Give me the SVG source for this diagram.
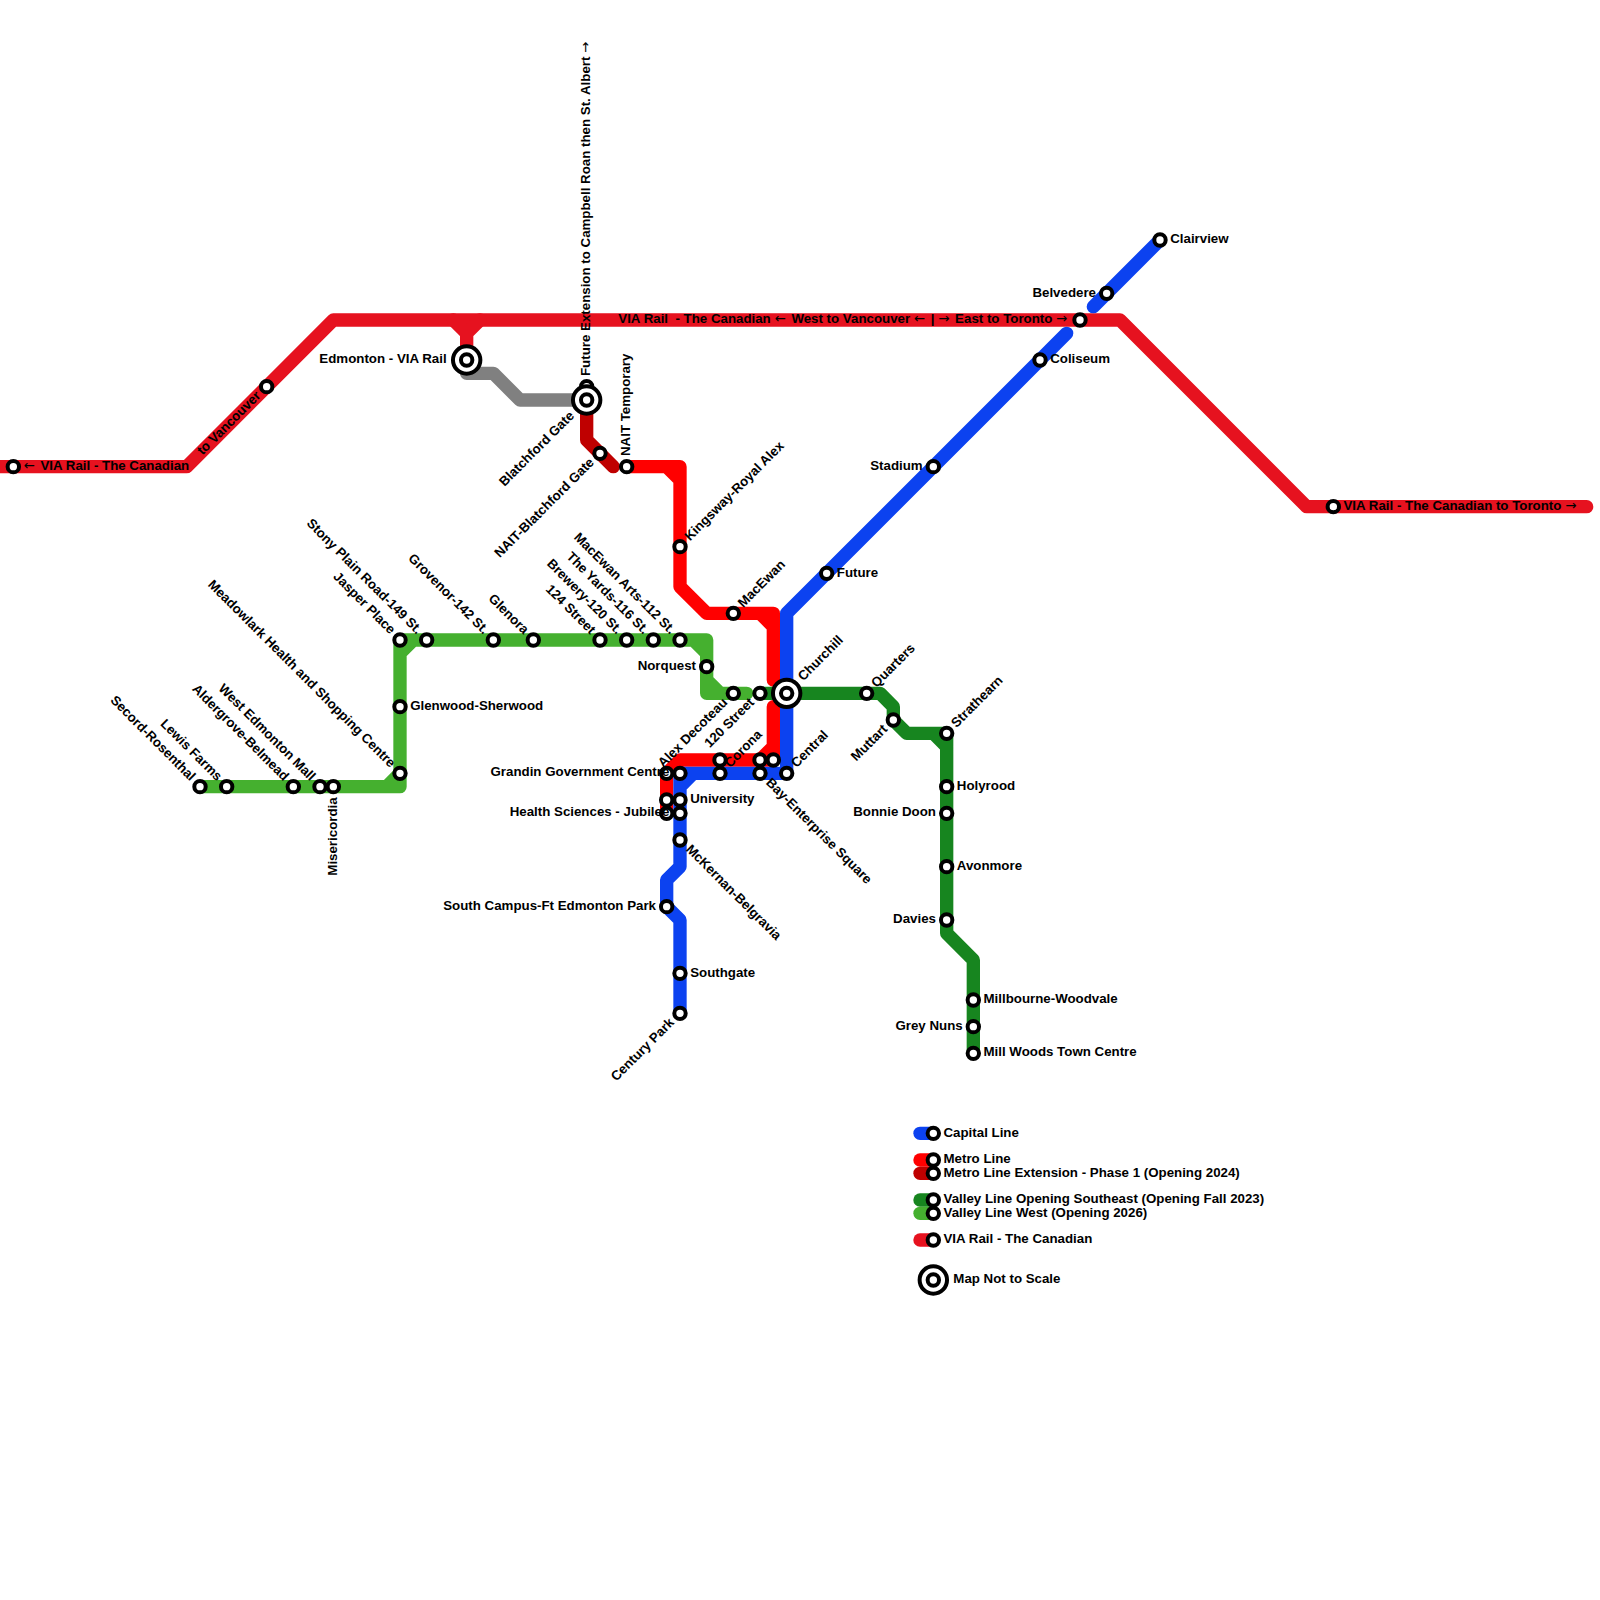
<svg xmlns="http://www.w3.org/2000/svg" width="1600" height="1600" viewBox="0 0 1600 1600">
<style>
.l{fill:none;stroke-width:13.33;stroke-linecap:round;stroke-linejoin:round}
.v{stroke:#e6121f}.m{stroke:#ff0000}.x{stroke:#bf0000}.c{stroke:#0c42f0}.d{stroke:#17851f}.w{stroke:#45b02f}.g{stroke:#808080}
.s{fill:#fff;stroke:#000;stroke-width:4}
text{font-family:"Liberation Sans",Arial,sans-serif;font-weight:700;font-size:13.3px;fill:#000;white-space:pre}
.e{text-anchor:end}
.a{font-family:"DejaVu Sans",sans-serif;font-weight:400;letter-spacing:2.1px}
</style>
<rect width="1600" height="1600" fill="#fff"/>
<g id="connectors">
<path class="l v" d="M0 466.67H186.67L333.33 320H1120L1306.67 506.67H1586.67"/>
<path class="l v" d="M453.33 320L466.67 333.33V360M480 320L466.67 333.33"/>
<path class="l g" d="M466.67 360V373.33H493.33L520 400H586.67"/>
<path class="l x" d="M586.67 400V440L613.33 466.67"/>
<path class="l m" d="M626.67 466.67H680V546.67V586.67L706.67 613.33H773.33V680M666.67 466.67L680 480M760 613.33L773.33 626.67"/>
<path class="l m" d="M773.33 706.67V760H680L666.67 773.33V813.33M773.33 746.67L760 760"/>
<path class="l w" d="M200 786.67H400V640H706.67V693.33H746.67M386.67 786.67L400 773.33M400 653.33L413.33 640M693.33 640L706.67 653.33M706.67 680L720 693.33"/>
<path class="l d" d="M760 693.33H880L893.33 706.67V720L906.67 733.33H946.67V933.33L973.33 960V1053.33M933.33 733.33L946.67 746.67"/>
<path class="l c" d="M1160 240L1093.33 306.67M1066.67 333.33L786.67 613.33V773.33H680V866.67L666.67 880V906.67L680 920V1013.33M680 786.67L693.33 773.33"/>
<path class="l c" d="M920 1133.33H933.33"/>
<path class="l m" d="M920 1160H933.33"/>
<path class="l x" d="M920 1173.33H933.33"/>
<path class="l d" d="M920 1200H933.33"/>
<path class="l w" d="M920 1213.33H933.33"/>
<path class="l v" d="M920 1240H933.33"/>
</g>
<g id="n-via-west"><circle class="s" cx="13.33" cy="466.67" r="5.7"/><text x="23.5" y="470"><tspan class="a">←</tspan> VIA Rail - The Canadian</text></g>
<g id="n-vancouver"><circle class="s" cx="266.67" cy="386.67" r="5.7"/><text class="e" x="256" y="390" transform="rotate(-45 266.67 386.67)">to Vancouver</text></g>
<g id="n-edmonton"><circle class="s" cx="466.67" cy="360" r="13.7"/><circle class="s" cx="466.67" cy="360" r="5.7"/><text class="e" x="446.67" y="363.4">Edmonton - VIA Rail</text></g>
<g id="n-future-ext"><circle class="s" cx="586.67" cy="386.67" r="5.7"/><text x="597.33" y="390" transform="rotate(-90 586.67 386.67)">Future Extension to Campbell Roan then St. Albert <tspan class="a">→</tspan></text></g>
<g id="n-blatchford"><circle class="s" cx="586.67" cy="400" r="13.7"/><circle class="s" cx="586.67" cy="400" r="5.7"/><text class="e" x="566.67" y="403.4" transform="rotate(-45 586.67 400)">Blatchford Gate</text></g>
<g id="n-nait-blatchford"><circle class="s" cx="600" cy="453.33" r="5.7"/><text class="e" x="589.33" y="456.7" transform="rotate(-45 600 453.33)">NAIT-Blatchford Gate</text></g>
<g id="n-nait-temp"><circle class="s" cx="626.67" cy="466.67" r="5.7"/><text x="637.33" y="470" transform="rotate(-90 626.67 466.67)">NAIT Temporary</text></g>
<g id="n-kingsway"><circle class="s" cx="680" cy="546.67" r="5.7"/><text x="690.67" y="550" transform="rotate(-45 680 546.67)">Kingsway-Royal Alex</text></g>
<g id="n-macewan"><circle class="s" cx="733.33" cy="613.33" r="5.7"/><text x="744" y="616.7" transform="rotate(-45 733.33 613.33)">MacEwan</text></g>
<g id="n-secord"><circle class="s" cx="200" cy="786.67" r="5.7"/><text class="e" x="189.33" y="790" transform="rotate(45 200 786.67)">Secord-Rosenthal</text></g>
<g id="n-lewis"><circle class="s" cx="226.67" cy="786.67" r="5.7"/><text class="e" x="216" y="790" transform="rotate(45 226.67 786.67)">Lewis Farms</text></g>
<g id="n-aldergrove"><circle class="s" cx="293.33" cy="786.67" r="5.7"/><text class="e" x="282.67" y="790" transform="rotate(45 293.33 786.67)">Aldergrove-Belmead</text></g>
<g id="n-wem"><circle class="s" cx="320" cy="786.67" r="5.7"/><text class="e" x="309.33" y="790" transform="rotate(45 320 786.67)">West Edmonton Mall</text></g>
<g id="n-misericordia"><circle class="s" cx="333.33" cy="786.67" r="5.7"/><text class="e" x="322.67" y="790" transform="rotate(-90 333.33 786.67)">Misericordia</text></g>
<g id="n-meadowlark"><circle class="s" cx="400" cy="773.33" r="5.7"/><text class="e" x="389.33" y="776.7" transform="rotate(45 400 773.33)">Meadowlark Health and Shopping Centre</text></g>
<g id="n-glenwood"><circle class="s" cx="400" cy="706.67" r="5.7"/><text x="410.2" y="710">Glenwood-Sherwood</text></g>
<g id="n-jasper"><circle class="s" cx="400" cy="640" r="5.7"/><text class="e" x="389.33" y="643.4" transform="rotate(45 400 640)">Jasper Place</text></g>
<g id="n-stony"><circle class="s" cx="426.67" cy="640" r="5.7"/><text class="e" x="416" y="643.4" transform="rotate(45 426.67 640)">Stony Plain Road-149 St.</text></g>
<g id="n-grovenor"><circle class="s" cx="493.33" cy="640" r="5.7"/><text class="e" x="482.67" y="643.4" transform="rotate(45 493.33 640)">Grovenor-142 St.</text></g>
<g id="n-glenora"><circle class="s" cx="533.33" cy="640" r="5.7"/><text class="e" x="522.67" y="643.4" transform="rotate(45 533.33 640)">Glenora</text></g>
<g id="n-124"><circle class="s" cx="600" cy="640" r="5.7"/><text class="e" x="589.33" y="643.4" transform="rotate(45 600 640)">124 Street</text></g>
<g id="n-brewery"><circle class="s" cx="626.67" cy="640" r="5.7"/><text class="e" x="616" y="643.4" transform="rotate(45 626.67 640)">Brewery-120 St.</text></g>
<g id="n-yards"><circle class="s" cx="653.33" cy="640" r="5.7"/><text class="e" x="642.67" y="643.4" transform="rotate(45 653.33 640)">The Yards-116 St.</text></g>
<g id="n-macewan-arts"><circle class="s" cx="680" cy="640" r="5.7"/><text class="e" x="669.33" y="643.4" transform="rotate(45 680 640)">MacEwan Arts-112 St.</text></g>
<g id="n-norquest"><circle class="s" cx="706.67" cy="666.67" r="5.7"/><text class="e" x="696" y="670">Norquest</text></g>
<g id="n-alex"><circle class="s" cx="733.33" cy="693.33" r="5.7"/><text class="e" x="722.67" y="696.7" transform="rotate(-45 733.33 693.33)">Alex Decoteau</text></g>
<g id="n-120"><circle class="s" cx="760" cy="693.33" r="5.7"/><text class="e" x="749.33" y="696.7" transform="rotate(-45 760 693.33)">120 Street</text></g>
<g id="n-churchill"><circle class="s" cx="786.67" cy="693.33" r="13.7"/><circle class="s" cx="786.67" cy="693.33" r="5.7"/><text x="806.67" y="696.7" transform="rotate(-45 786.67 693.33)">Churchill</text></g>
<g id="n-quarters"><circle class="s" cx="866.67" cy="693.33" r="5.7"/><text x="877.33" y="696.7" transform="rotate(-45 866.67 693.33)">Quarters</text></g>
<g id="n-muttart"><circle class="s" cx="893.33" cy="720" r="5.7"/><text class="e" x="882.67" y="723.4" transform="rotate(-45 893.33 720)">Muttart</text></g>
<g id="n-strathearn"><circle class="s" cx="946.67" cy="733.33" r="5.7"/><text x="957.33" y="736.7" transform="rotate(-45 946.67 733.33)">Strathearn</text></g>
<g id="n-holyrood"><circle class="s" cx="946.67" cy="786.67" r="5.7"/><text x="956.8" y="790">Holyrood</text></g>
<g id="n-bonnie"><circle class="s" cx="946.67" cy="813.33" r="5.7"/><text class="e" x="936" y="816">Bonnie Doon</text></g>
<g id="n-avonmore"><circle class="s" cx="946.67" cy="866.67" r="5.7"/><text x="956.8" y="870">Avonmore</text></g>
<g id="n-davies"><circle class="s" cx="946.67" cy="920" r="5.7"/><text class="e" x="936" y="923.4">Davies</text></g>
<g id="n-millbourne"><circle class="s" cx="973.33" cy="1000" r="5.7"/><text x="983.5" y="1003.4">Millbourne-Woodvale</text></g>
<g id="n-greynuns"><circle class="s" cx="973.33" cy="1026.67" r="5.7"/><text class="e" x="962.67" y="1030">Grey Nuns</text></g>
<g id="n-millwoods"><circle class="s" cx="973.33" cy="1053.33" r="5.7"/><text x="983.5" y="1056">Mill Woods Town Centre</text></g>
<g id="n-corona"><circle class="s" cx="720" cy="760" r="5.7"/><circle class="s" cx="720" cy="773.33" r="5.7"/><text x="730.67" y="776.7" transform="rotate(-45 720 773.33)">Corona</text></g>
<g id="n-bay"><circle class="s" cx="760" cy="760" r="5.7"/><circle class="s" cx="760" cy="773.33" r="5.7"/><text x="770.67" y="776.7" transform="rotate(45 760 773.33)">Bay-Enterprise Square</text></g>
<g id="n-central"><circle class="s" cx="773.33" cy="760" r="5.7"/><circle class="s" cx="786.67" cy="773.33" r="5.7"/><text x="797.33" y="776.7" transform="rotate(-45 786.67 773.33)">Central</text></g>
<g id="n-grandin"><circle class="s" cx="666.67" cy="773.33" r="5.7"/><circle class="s" cx="680" cy="773.33" r="5.7"/><text class="e" x="669.33" y="776">Grandin Government Centre</text></g>
<g id="n-university"><circle class="s" cx="666.67" cy="800" r="5.7"/><circle class="s" cx="680" cy="800" r="5.7"/><text x="690.2" y="803.4">University</text></g>
<g id="n-health"><circle class="s" cx="666.67" cy="813.33" r="5.7"/><circle class="s" cx="680" cy="813.33" r="5.7"/><text class="e" x="669.33" y="816">Health Sciences - Jubilee</text></g>
<g id="n-mckernan"><circle class="s" cx="680" cy="840" r="5.7"/><text x="690.67" y="843.4" transform="rotate(45 680 840)">McKernan-Belgravia</text></g>
<g id="n-south-campus"><circle class="s" cx="666.67" cy="906.67" r="5.7"/><text class="e" x="656" y="910">South Campus-Ft Edmonton Park</text></g>
<g id="n-southgate"><circle class="s" cx="680" cy="973.33" r="5.7"/><text x="690.2" y="976.7">Southgate</text></g>
<g id="n-century"><circle class="s" cx="680" cy="1013.33" r="5.7"/><text class="e" x="669.33" y="1016.7" transform="rotate(-45 680 1013.33)">Century Park</text></g>
<g id="n-future"><circle class="s" cx="826.67" cy="573.33" r="5.7"/><text x="836.8" y="576.7">Future</text></g>
<g id="n-stadium"><circle class="s" cx="933.33" cy="466.67" r="5.7"/><text class="e" x="922.67" y="470">Stadium</text></g>
<g id="n-coliseum"><circle class="s" cx="1040" cy="360" r="5.7"/><text x="1050.2" y="363.4">Coliseum</text></g>
<g id="n-via-main"><circle class="s" cx="1080" cy="320" r="5.7"/><text class="e" x="1069.33" y="323.4">VIA Rail  - The Canadian <tspan class="a">←</tspan> West to Vancouver <tspan class="a">←</tspan> | <tspan class="a">→</tspan> East to Toronto <tspan class="a">→</tspan></text></g>
<g id="n-belvedere"><circle class="s" cx="1106.67" cy="293.33" r="5.7"/><text class="e" x="1096" y="296.7">Belvedere</text></g>
<g id="n-clairview"><circle class="s" cx="1160" cy="240" r="5.7"/><text x="1170.2" y="243.4">Clairview</text></g>
<g id="n-via-east"><circle class="s" cx="1333.33" cy="506.67" r="5.7"/><text x="1343.5" y="510">VIA Rail - The Canadian to Toronto <tspan class="a">→</tspan></text></g>
<g id="legend-capital"><circle class="s" cx="933.33" cy="1133.33" r="5.7"/><text x="943.5" y="1136.7">Capital Line</text></g>
<g id="legend-metro"><circle class="s" cx="933.33" cy="1160" r="5.7"/><text x="943.5" y="1163.4">Metro Line</text></g>
<g id="legend-ext"><circle class="s" cx="933.33" cy="1173.33" r="5.7"/><text x="943.5" y="1176.7">Metro Line Extension - Phase 1 (Opening 2024)</text></g>
<g id="legend-valley"><circle class="s" cx="933.33" cy="1200" r="5.7"/><text x="943.5" y="1203.4">Valley Line Opening Southeast (Opening Fall 2023)</text></g>
<g id="legend-west"><circle class="s" cx="933.33" cy="1213.33" r="5.7"/><text x="943.5" y="1216.7">Valley Line West (Opening 2026)</text></g>
<g id="legend-via"><circle class="s" cx="933.33" cy="1240" r="5.7"/><text x="943.5" y="1243.4">VIA Rail - The Canadian</text></g>
<g id="legend-scale"><circle class="s" cx="933.33" cy="1280" r="13.7"/><circle class="s" cx="933.33" cy="1280" r="5.7"/><text x="953.33" y="1283.4">Map Not to Scale</text></g>
</svg>
